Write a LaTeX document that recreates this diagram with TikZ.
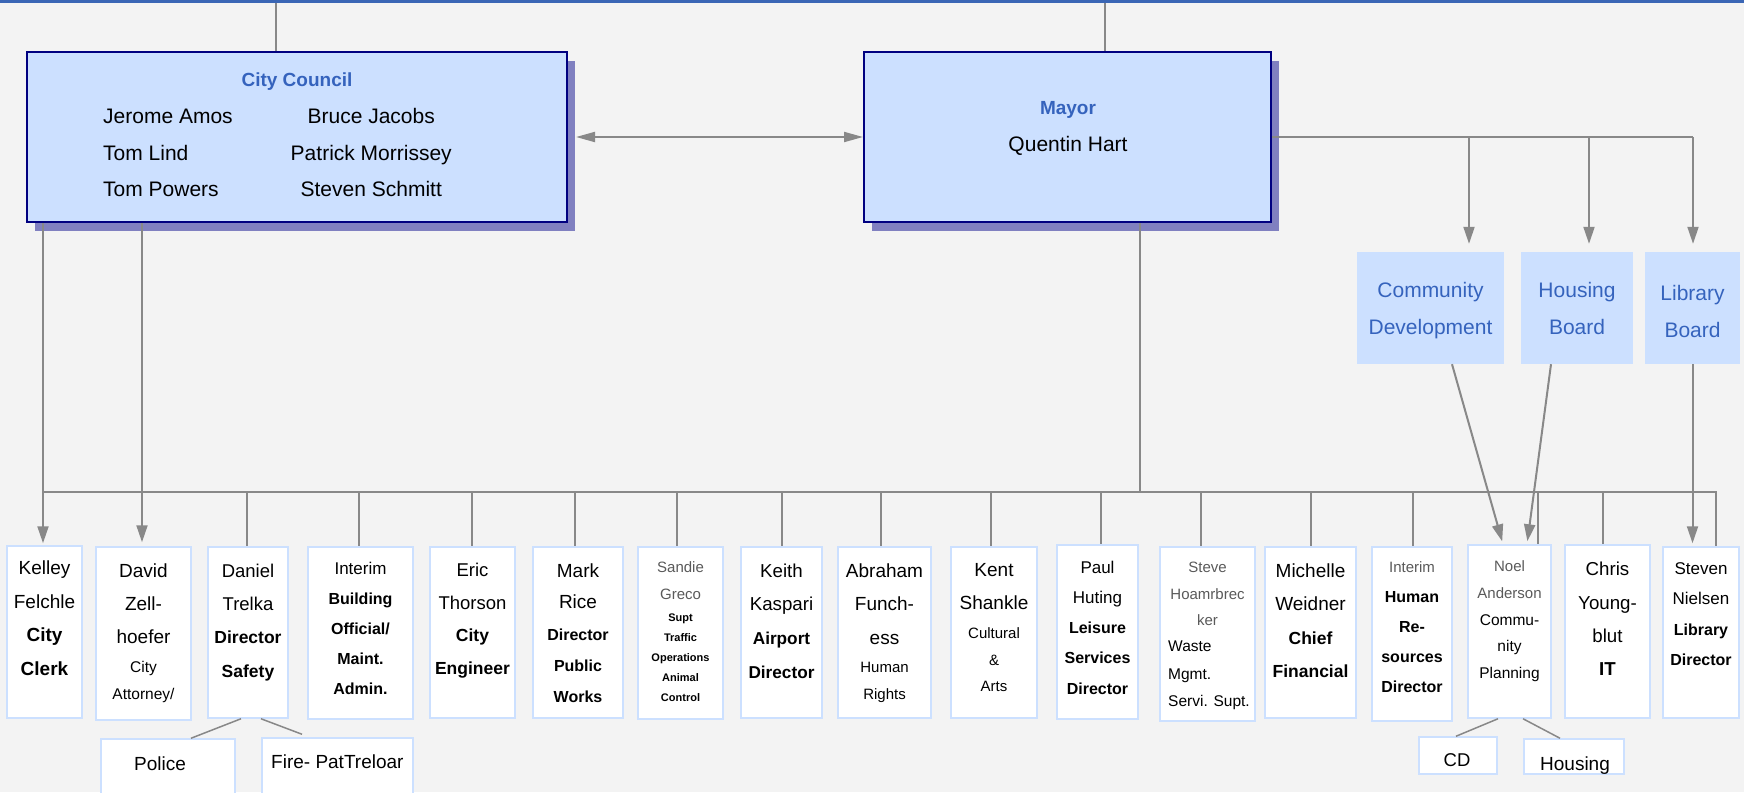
\documentclass[tikz,border=0pt]{standalone}
\usepackage{fontspec}
\setmainfont{Liberation Sans}
\usetikzlibrary{arrows.meta,shadows}

\definecolor{bg}{HTML}{F3F3F3}
\definecolor{topbar}{HTML}{3A66B5}
\definecolor{titleblue}{HTML}{3563BD}
\definecolor{boxfill}{HTML}{CCE0FF}
\definecolor{navy}{HTML}{000080}
\definecolor{shadowc}{HTML}{8080C0}
\definecolor{linegray}{HTML}{888888}
\definecolor{boxline}{HTML}{CCE0FF}
\definecolor{graytext}{HTML}{5A5A5A}

\newcommand\setsz[2]{\fontsize{#1}{#2}\selectfont}
\newcommand\bsz[2]{{\fontsize{#1}{\baselineskip}\selectfont\bfseries #2}}
\newcommand\rsz[2]{{\fontsize{#1}{\baselineskip}\selectfont #2}}
\newcommand\gsz[2]{{\fontsize{#1}{\baselineskip}\selectfont\color{graytext}#2}}

\begin{document}
\begin{tikzpicture}[
  x=1pt, y=-1pt,
  >={Triangle[length=17pt,width=11pt]},
  head/.style={draw=navy,line width=2pt,fill=boxfill,inner sep=0pt,
    drop shadow={shadow xshift=8pt,shadow yshift=-9pt,fill=shadowc,opacity=1}},
  board/.style={fill=boxfill,inner sep=0pt},
  boardtxt/.style={inner sep=0pt,align=center,anchor=north,text=titleblue,font=\setsz{21}{37}},
  staff/.style={draw=boxline,line width=1.5pt,fill=white,inner sep=0pt},
  sub/.style={staff},
  txt/.style={inner sep=0pt,align=center,anchor=north},
  ttl/.style={inner sep=0pt,anchor=base,text=titleblue,font=\setsz{19}{23}\bfseries},
  conn/.style={draw=linegray,line width=2pt},
  thin/.style={draw=linegray,line width=1.5pt}
]
\useasboundingbox (0,0) rectangle (1744,792);
\fill[bg] (0,0) rectangle (1744,792);
\fill[topbar] (0,0) rectangle (1744,3);

% ---- Council and mayor ----
\node[head, minimum width=540, minimum height=170] (council) at (297,137) {};
\node[ttl] (counciltitle) at (297,86) {City Council};
\node[inner sep=0pt, anchor=north west, font=\setsz{21}{36.5}] (members) at (103,98)
{\begin{tabular}{@{}l@{\hspace{58pt}}c@{}}
Jerome Amos & Bruce Jacobs\\
Tom Lind & Patrick Morrissey\\
Tom Powers & Steven Schmitt
\end{tabular}};

\node[head, minimum width=407, minimum height=170] (mayor) at (1067.5,137) {};
\node[ttl] (mayortitle) at (1068,114) {Mayor};
\node[inner sep=0pt, anchor=base, font=\setsz{21}{25}] (mayorname) at (1068,151) {Quentin Hart};

% ---- Boards ----
\node[board, minimum width=147, minimum height=112] (cdev) at (1430.5,308) {};
\node[board, minimum width=112, minimum height=112] (hboard) at (1577,308) {};
\node[board, minimum width=95, minimum height=112] (lboard) at (1692.5,308) {};
\node[boardtxt] (cdevtxt) at (1430.5,282.5) {Community\\Development};
\node[boardtxt] (hboardtxt) at (1577,282) {Housing\\Board};
\node[boardtxt] (lboardtxt) at (1692.5,285.5) {Library\\Board};

% ---- Staff boxes ----
\node[staff, minimum width=75, minimum height=172] (kelley) at (44.5,632) {};
\node[staff, minimum width=95, minimum height=173] (david) at (143.5,633.5) {};
\node[staff, minimum width=80, minimum height=171] (daniel) at (248,632.5) {};
\node[staff, minimum width=105, minimum height=172] (bldg) at (360.5,633) {};
\node[staff, minimum width=85, minimum height=171] (eric) at (472.5,632.5) {};
\node[staff, minimum width=90, minimum height=171] (mark) at (578,632.5) {};
\node[staff, minimum width=85, minimum height=172] (sandie) at (680.5,633) {};
\node[staff, minimum width=81, minimum height=171] (keith) at (781.5,632.5) {};
\node[staff, minimum width=93, minimum height=171] (abraham) at (884.5,632.5) {};
\node[staff, minimum width=86, minimum height=171] (kent) at (994,632.5) {};
\node[staff, minimum width=81, minimum height=174] (paul) at (1097.5,632) {};
\node[staff, minimum width=95, minimum height=174] (steve) at (1207.5,634) {};
\node[staff, minimum width=91, minimum height=171] (michelle) at (1310.5,632.5) {};
\node[staff, minimum width=80, minimum height=174] (hr) at (1412,634) {};
\node[staff, minimum width=83, minimum height=173] (noel) at (1509.5,631.5) {};
\node[staff, minimum width=85, minimum height=173] (chris) at (1607.5,631.5) {};
\node[staff, minimum width=76, minimum height=171] (steven) at (1701,632.5) {};

\node[txt, font=\setsz{19}{33.5}] (kelleytxt) at (44.5,561) {Kelley\\Felchle\\\textbf{City}\\\textbf{Clerk}};
\node[txt, font=\setsz{19}{33}] (davidtxt) at (143.5,564) {David\\Zell-\\hoefer\\[-4pt]\rsz{15.5}{City}\\[-6pt]\rsz{15.5}{Attorney/}};
\node[txt, font=\setsz{18.5}{33.3}] (danieltxt) at (248,563.5) {Daniel\\Trelka\\\bsz{17.5}{Director}\\\bsz{17.5}{Safety}};
\node[txt, font=\setsz{16}{30}] (bldgtxt) at (360.5,562) {\rsz{17}{Interim}\\\textbf{Building}\\\textbf{Official/}\\\textbf{Maint.}\\\textbf{Admin.}};
\node[txt, font=\setsz{18.5}{32.5}] (erictxt) at (472.5,563) {Eric\\Thorson\\\bsz{17.5}{City}\\\bsz{17.5}{Engineer}};
\node[txt, font=\setsz{19}{31.3}] (marktxt) at (578,563.5) {Mark\\Rice\\\bsz{16}{Director}\\\bsz{16}{Public}\\\bsz{16}{Works}};
\node[txt, font=\setsz{11}{20}] (sandietxt) at (680.5,561.5) {\gsz{15}{Sandie}\\[7pt]\gsz{15}{Greco}\\[1.5pt]\textbf{Supt}\\\textbf{Traffic}\\\textbf{Operations}\\\textbf{Animal}\\\textbf{Control}};
\node[txt, font=\setsz{18.7}{33.7}] (keithtxt) at (781.5,563.5) {Keith\\Kaspari\\\bsz{17.2}{Airport}\\\bsz{17.2}{Director}};
\node[txt, font=\setsz{19}{33.5}] (abrahamtxt) at (884.5,563.5) {Abraham\\Funch-\\ess\\[-5pt]\rsz{15}{Human}\\[-6.5pt]\rsz{15}{Rights}};
\node[txt, font=\setsz{19}{27}] (kenttxt) at (994,563.5) {Kent\\[6pt]Shankle\\[2pt]\rsz{15}{Cultural}\\\rsz{15}{\&}\\[-1pt]\rsz{15}{Arts}};
\node[txt, font=\setsz{17}{30.3}] (paultxt) at (1097.5,560.5) {Paul\\Huting\\\bsz{16}{Leisure}\\\bsz{16}{Services}\\\bsz{16}{Director}};
\node[txt, font=\setsz{15}{26.5}, text=graytext] (stevetxt) at (1207.5,562) {Steve\\Hoamrbrec\\ker};
\node[txt, font=\setsz{15.5}{27.5}, align=left, anchor=north west] (stevejob) at (1168,641) {Waste\\Mgmt.\\Servi. Supt.};
\node[txt, font=\setsz{19}{33.3}] (michelletxt) at (1310.5,563.5) {Michelle\\Weidner\\\bsz{17.5}{Chief}\\\bsz{17.5}{Financial}};
\node[txt, font=\setsz{16}{30}] (hrtxt) at (1412,561.5) {\gsz{15}{Interim}\\\textbf{Human}\\\textbf{Re-}\\\textbf{sources}\\\textbf{Director}};
\node[txt, font=\setsz{15.5}{26.8}] (noeltxt) at (1509.5,560.5) {\gsz{15}{Noel}\\\gsz{15}{Anderson}\\Commu-\\nity\\Planning};
\node[txt, font=\setsz{18.7}{33.3}] (christxt) at (1607.5,562) {Chris\\Young-\\blut\\\textbf{IT}};
\node[txt, font=\setsz{17}{30.3}] (steventxt) at (1701,562.5) {Steven\\Nielsen\\\bsz{16}{Library}\\\bsz{16}{Director}};

% ---- Sub units ----
\node[sub, minimum width=134, minimum height=61] (police) at (168,769.5) {};
\node[sub, minimum width=151, minimum height=62] (fire) at (337.5,769) {};
\node[sub, minimum width=78, minimum height=37] (cd) at (1458,755.5) {};
\node[sub, minimum width=100, minimum height=35] (housing) at (1574,756.5) {};
\node[inner sep=0pt, anchor=base, font=\setsz{19}{23}] (policetxt) at (160,770) {Police};
\node[inner sep=0pt, anchor=base west, font=\setsz{19}{23}] (firetxt) at (271,768) {Fire- PatTreloar};
\node[inner sep=0pt, anchor=base, font=\setsz{18.5}{23}] (cdtxt) at (1457,766) {CD};
\node[inner sep=0pt, anchor=base, font=\setsz{19}{23}] (housingtxt) at (1575,770) {Housing};

% ---- Connectors ----
\coordinate (ctop) at (276,3);
\coordinate (mtop) at (1105,3);
\draw[conn] (ctop) -- (ctop |- council.north);
\draw[conn] (mtop) -- (mtop |- mayor.north);
\draw[conn, <->, >={Triangle[length=19pt,width=10pt]}, shorten <=8pt] (council.east) -- (mayor.west);

\draw[conn] (mayor.east) -- (1693,0 |- mayor.east);
\foreach \x/\b in {1469/cdev,1589/hboard,1693/lboard} {
  \draw[conn, ->, shorten >=8pt] (\x,0 |- mayor.east) -- (\x,0 |- \b.north);
}

\coordinate (busL) at (43,492);
\coordinate (busR) at (1716,492);
\draw[conn, ->, shorten >=2pt] (43,0 |- council.south) -- (43,0 |- kelley.north);
\draw[conn, ->, shorten >=4pt] (142,0 |- council.south) -- (142,0 |- david.north);
\draw[conn] (1140,0 |- mayor.south) -- (1140,0 |- busL);
\draw[conn] (busL) -- (busR) -- (busR |- steven.north);
\foreach \x/\b in {247/daniel,359/bldg,472/eric,575/mark,677/sandie,782/keith,881/abraham,
  991/kent,1101/paul,1201/steve,1311/michelle,1413/hr,1538/noel,1603/chris} {
  \draw[conn] (\x,0 |- busL) -- (\x,0 |- \b.north);
}

\draw[conn, ->, shorten >=3pt] ([xshift=21.5pt]cdev.south) -- ([xshift=-6.5pt]noel.north);
\draw[conn, ->, shorten >=3pt] ([xshift=-26pt]hboard.south) -- ([xshift=17.5pt]noel.north);
\draw[conn, ->, shorten >=3pt] (lboard.south) -- (lboard.south |- steven.north);

\draw[thin] ([xshift=-7pt]daniel.south) -- ([xshift=23pt]police.north);
\draw[thin] ([xshift=13pt]daniel.south) -- ([xshift=-35.5pt,yshift=3pt]fire.north);
\draw[thin] ([xshift=-11.5pt]noel.south) -- ([xshift=-2pt]cd.north);
\draw[thin] ([xshift=13.5pt]noel.south) -- ([xshift=-14pt]housing.north);

\end{tikzpicture}
\end{document}
